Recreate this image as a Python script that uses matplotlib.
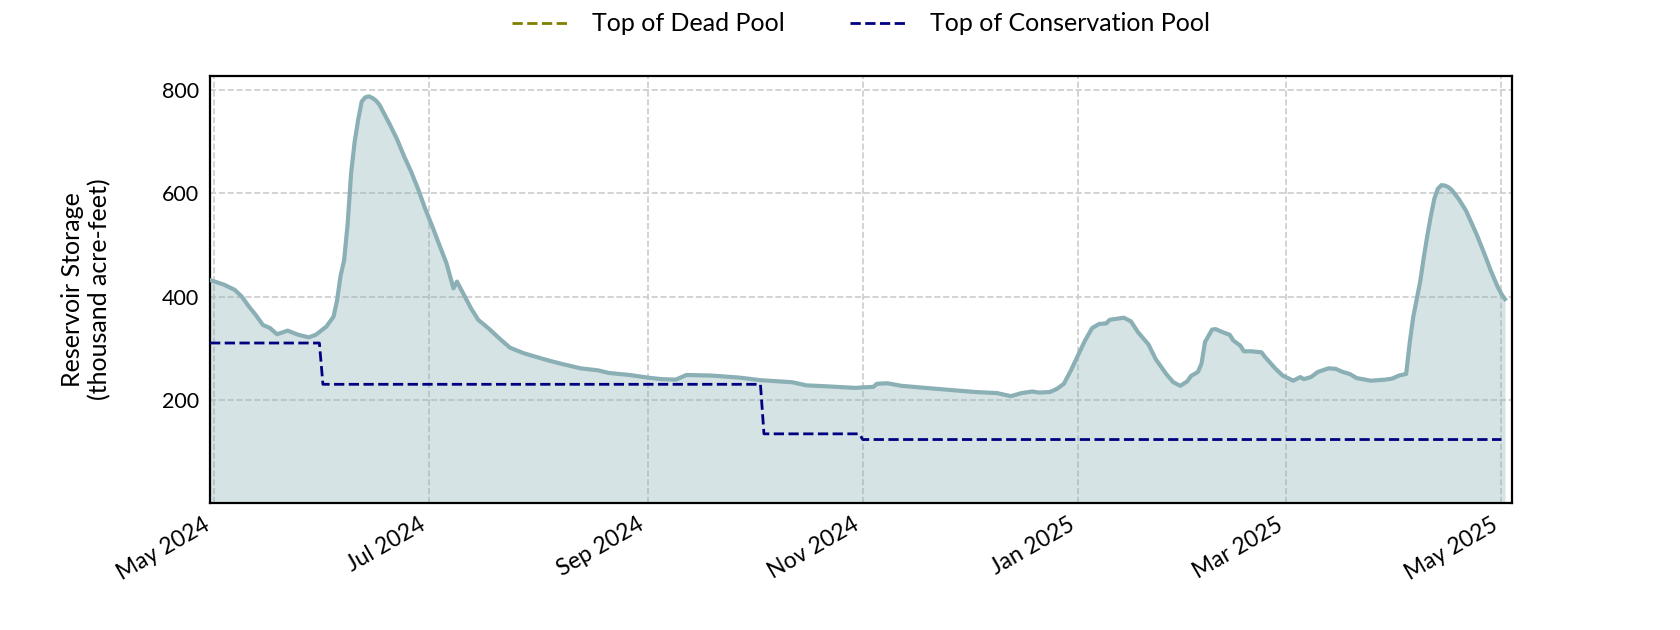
import numpy as np
import pandas as pd
import matplotlib
matplotlib.use("Agg")
import matplotlib.pyplot as plt
import matplotlib.dates as mdates

plt.rcParams['font.family'] = ['Lato', 'DejaVu Sans']

# reservoir storage, thousand acre-feet
storage_dates = [
    "2024-04-30", "2024-05-04", "2024-05-07", "2024-05-09", "2024-05-11", "2024-05-13",
    "2024-05-15", "2024-05-17", "2024-05-19", "2024-05-22", "2024-05-25", "2024-05-28",
    "2024-05-30", "2024-06-02", "2024-06-04", "2024-06-05", "2024-06-06", "2024-06-07",
    "2024-06-08", "2024-06-09", "2024-06-10", "2024-06-11", "2024-06-12", "2024-06-13",
    "2024-06-14", "2024-06-15", "2024-06-16", "2024-06-17", "2024-06-18", "2024-06-20",
    "2024-06-22", "2024-06-24", "2024-06-26", "2024-06-28", "2024-06-30", "2024-07-02",
    "2024-07-04", "2024-07-06", "2024-07-08", "2024-07-09", "2024-07-11", "2024-07-13",
    "2024-07-15", "2024-07-18", "2024-07-21", "2024-07-24", "2024-07-28", "2024-08-01",
    "2024-08-04", "2024-08-08", "2024-08-13", "2024-08-18", "2024-08-21", "2024-08-27",
    "2024-09-01", "2024-09-05", "2024-09-09", "2024-09-11", "2024-09-12", "2024-09-19",
    "2024-09-27", "2024-10-03", "2024-10-12", "2024-10-16", "2024-10-22", "2024-10-30",
    "2024-11-01", "2024-11-04", "2024-11-05", "2024-11-08", "2024-11-12", "2024-11-17",
    "2024-11-24", "2024-12-03", "2024-12-09", "2024-12-13", "2024-12-16", "2024-12-19",
    "2024-12-21", "2024-12-24", "2024-12-26", "2024-12-28", "2024-12-30", "2025-01-01",
    "2025-01-03", "2025-01-05", "2025-01-07", "2025-01-09", "2025-01-10", "2025-01-14",
    "2025-01-16", "2025-01-18", "2025-01-21", "2025-01-23", "2025-01-26", "2025-01-28",
    "2025-01-30", "2025-02-01", "2025-02-02", "2025-02-04", "2025-02-05", "2025-02-06",
    "2025-02-08", "2025-02-09", "2025-02-11", "2025-02-13", "2025-02-14", "2025-02-16",
    "2025-02-17", "2025-02-19", "2025-02-22", "2025-02-23", "2025-02-26", "2025-02-28",
    "2025-03-03", "2025-03-05", "2025-03-06", "2025-03-08", "2025-03-10", "2025-03-13",
    "2025-03-15", "2025-03-17", "2025-03-19", "2025-03-21", "2025-03-25", "2025-03-29",
    "2025-03-31", "2025-04-02", "2025-04-04", "2025-04-05", "2025-04-06", "2025-04-07",
    "2025-04-08", "2025-04-09", "2025-04-10", "2025-04-11", "2025-04-12", "2025-04-13",
    "2025-04-14", "2025-04-15", "2025-04-16", "2025-04-17", "2025-04-19", "2025-04-21",
    "2025-04-24", "2025-04-26", "2025-04-28", "2025-04-30", "2025-05-01", "2025-05-02",
]
storage = [
    432, 423, 413, 400, 381, 364,
    345, 339, 327, 334, 326, 321,
    326, 342, 361, 392, 440, 470,
    540, 640, 700, 743, 778, 786,
    788, 785, 780, 772, 759, 733,
    705, 672, 642, 608, 570, 536,
    500, 465, 416, 429, 403, 377,
    355, 338, 319, 301, 290, 282,
    276, 269, 261, 257, 252, 248,
    243, 240, 239, 245, 248, 247,
    243, 238, 234, 228, 226, 223,
    224, 225, 231, 232, 227, 224,
    220, 215, 213, 207, 213, 216,
    214, 215, 221, 231, 257, 286,
    315, 339, 347, 348, 355, 359,
    352, 331, 307, 279, 250, 234,
    227, 236, 246, 254, 270, 312,
    336, 337, 331, 326, 315, 305,
    294, 294, 292, 283, 260, 247,
    237, 244, 240, 244, 254, 261,
    260, 254, 250, 242, 237, 239,
    241, 247, 250, 310, 360, 395,
    430, 476, 518, 556, 590, 609,
    616, 615, 612, 606, 588, 566,
    520, 486, 450, 418, 405, 395,
]

# operating levels (thousand acre-feet)
pool_dates = ["2024-04-30", "2024-05-31", "2024-06-01", "2024-10-03",
              "2024-10-04", "2024-10-31", "2024-11-01", "2025-05-01"]
conservation_pool = [310, 310, 230, 230, 134, 134, 123, 123]
dead_pool = [0, 0, 0, 0, 0, 0, 0, 0]

x = pd.to_datetime(storage_dates)
xp = pd.to_datetime(pool_dates)

line_color = '#8aafb5'

fig, ax = plt.subplots(figsize=(16.8, 6.3), dpi=100)
fig.subplots_adjust(left=0.125, right=0.9, top=0.879, bottom=0.2016)

ax.plot(xp, dead_pool, '--', color='#808000', lw=2, label='Top of Dead Pool', zorder=1)
ax.fill_between(x, storage, 0, color=line_color, alpha=0.35, lw=0, zorder=2)
ax.plot(x, storage, color=line_color, lw=3, zorder=3)
ax.plot(xp, conservation_pool, '--', color='#000080', lw=2, label='Top of Conservation Pool', zorder=4)

ax.set_xlim(pd.Timestamp("2024-04-30"), pd.Timestamp("2025-05-04"))
ax.set_ylim(0, 827)
ax.set_yticks([200, 400, 600, 800])
ax.xaxis.set_major_locator(mdates.MonthLocator(bymonth=[1, 3, 5, 7, 9, 11]))
ax.xaxis.set_major_formatter(mdates.DateFormatter('%b %Y'))

ax.set_axisbelow(True)
ax.grid(True, linestyle='--', color='#cccccc', lw=1.2)
ax.tick_params(axis='y', length=0, labelsize=15.5, pad=8)
ax.tick_params(axis='x', length=0, labelsize=16.5, pad=8)
for lbl in ax.get_xticklabels():
    lbl.set_rotation(30)
    lbl.set_ha('right')
for sp in ax.spines.values():
    sp.set_linewidth(1.6)
    sp.set_color('black')

ax.set_ylabel('Reservoir Storage\n(thousand acre-feet)', fontsize=18, labelpad=36)

fig.legend(loc='center', bbox_to_anchor=(0.5125, 0.962), ncol=2, frameon=False,
           fontsize=18, handlelength=2.2, handletextpad=1.0, columnspacing=2.6)

fig.savefig('out.png', dpi=100)
